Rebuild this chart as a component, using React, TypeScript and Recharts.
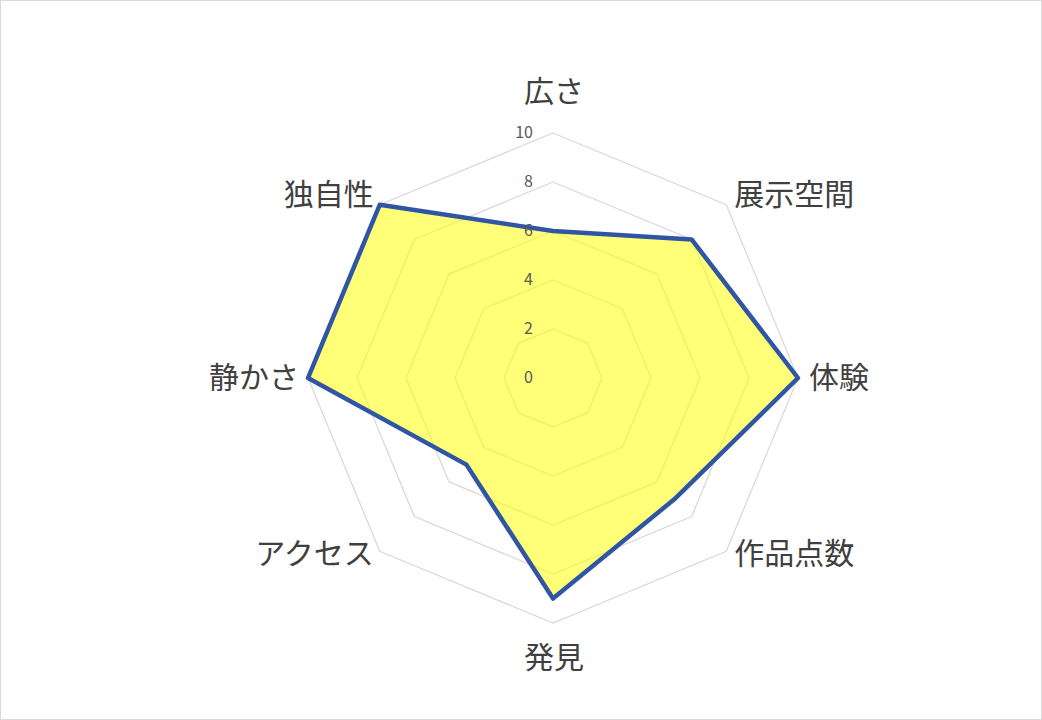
import React from 'react';
import { PolarAngleAxis, PolarGrid, PolarRadiusAxis, Radar, RadarChart } from 'recharts';

const CATEGORIES = ['広さ', '展示空間', '体験', '作品点数', '発見', 'アクセス', '静かさ', '独自性'];
const SCORES = [6, 8, 10, 7, 9, 5, 10, 10];
const RADIUS_TICKS = [0, 2, 4, 6, 8, 10];

const CX = 553;
const CY = 378;
const OUTER = 245;
const LABEL_FONT = '"Noto Sans CJK JP", "Noto Sans", sans-serif';

const chartData = CATEGORIES.map((name, i) => ({ name, score: SCORES[i] }));

function AngleTick(props: any) {
  const { payload } = props;
  const angle = (payload.coordinate * Math.PI) / 180;
  const px = CX + OUTER * Math.cos(angle);
  const py = CY - OUTER * Math.sin(angle);
  const cos = Math.cos(angle);
  const sin = Math.sin(angle);
  let x = px;
  let y = py;
  let anchor: 'start' | 'middle' | 'end' = 'middle';
  if (Math.abs(cos) < 0.1) {
    y = sin > 0 ? py - 45 : py + 31;
  } else {
    anchor = cos > 0 ? 'start' : 'end';
    x = px + (cos > 0 ? 1 : -1) * (Math.abs(sin) < 0.1 ? 10 : 7);
    y = Math.abs(sin) < 0.1 ? py - 4 : sin > 0 ? py - 14 : py - 1;
  }
  return (
    <text
      x={x}
      y={y}
      textAnchor={anchor}
      dominantBaseline="central"
      fontSize={30}
      fontFamily={LABEL_FONT}
      fill="#404040"
    >
      {payload.value}
    </text>
  );
}

function RadiusTick(props: any) {
  const { x, y, payload } = props;
  return (
    <text
      x={x - 20}
      y={y - 2}
      textAnchor="end"
      dominantBaseline="central"
      fontSize={16}
      fontFamily={LABEL_FONT}
      fill="#595959"
    >
      {payload.value}
    </text>
  );
}

export default function App() {
  return (
    <div
      style={{
        position: 'fixed',
        left: 0,
        top: 0,
        width: 1042,
        height: 720,
        boxSizing: 'border-box',
        border: '1px solid #d9d9d9',
        background: '#ffffff',
      }}
    >
      <RadarChart
        width={1040}
        height={718}
        data={chartData}
        cx={CX - 1}
        cy={CY - 1}
        outerRadius={OUTER}
        margin={{ top: 0, right: 0, bottom: 0, left: 0 }}
        style={{ position: 'absolute', left: 0, top: 0 }}
      >
        <PolarGrid gridType="polygon" radialLines={false} stroke="#d9d9d9" strokeWidth={1.3} />
        <PolarAngleAxis dataKey="name" tick={<AngleTick />} axisLine={false} tickLine={false} />
        <PolarRadiusAxis
          angle={90}
          domain={[0, 10]}
          ticks={RADIUS_TICKS as any}
          tickCount={6}
          axisLine={false}
          tickLine={false}
          tick={<RadiusTick />}
        />
        <Radar
          dataKey="score"
          fill="#ffff00"
          fillOpacity={0.53}
          stroke="#2f55a4"
          strokeWidth={4.5}
          strokeLinejoin="round"
          isAnimationActive={false}
        />
      </RadarChart>
    </div>
  );
}
